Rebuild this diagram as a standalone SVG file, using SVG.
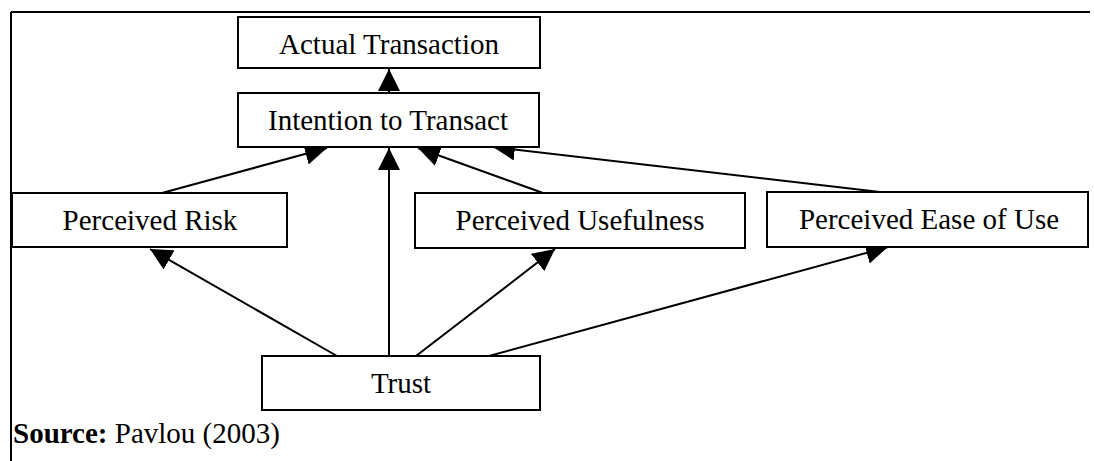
<svg xmlns="http://www.w3.org/2000/svg" width="1094" height="461" viewBox="0 0 1094 461">
  <style>
    .box { fill: #fff; stroke: #000; stroke-width: 2; }
    .lbl { font-family: "Liberation Serif", "Times New Roman", serif; font-size: 29px; fill: #000; text-anchor: middle; }
    .src { font-family: "Liberation Serif", "Times New Roman", serif; font-size: 29px; fill: #000; }
    .edge { stroke: #000; stroke-width: 2; fill: none; marker-end: url(#head); }
  </style>
  <defs>
    <marker id="head" markerUnits="userSpaceOnUse" markerWidth="22" markerHeight="22" viewBox="0 0 20 20" refX="20" refY="10" orient="auto">
      <path d="M0,0 L20,10 L0,20 Z" fill="#000"/>
    </marker>
  </defs>
  <rect width="1094" height="461" fill="#fff"/>

  <!-- outer frame: top rule and left rule only -->
  <path d="M11,12 H1090 M11,12 V461" stroke="#000" stroke-width="2" fill="none"/>

  <g id="connectors">
    <line class="edge" x1="389" y1="93" x2="389" y2="69"/>
    <line class="edge" x1="162" y1="193" x2="327" y2="148"/>
    <line class="edge" x1="543" y1="193" x2="418" y2="148"/>
    <line class="edge" x1="880" y1="192" x2="493" y2="147"/>
    <line class="edge" x1="389" y1="356" x2="389" y2="148"/>
    <line class="edge" x1="337" y1="356" x2="150" y2="249"/>
    <line class="edge" x1="416" y1="356" x2="555" y2="249"/>
    <line class="edge" x1="489" y1="356" x2="888" y2="247"/>
  </g>

  <g id="actual-transaction">
    <rect class="box" x="238" y="17" width="302" height="51"/>
    <text class="lbl" x="389" y="54">Actual Transaction</text>
  </g>
  <g id="intention-to-transact">
    <rect class="box" x="238" y="93" width="301" height="54"/>
    <text class="lbl" x="388" y="130">Intention to Transact</text>
  </g>
  <g id="perceived-risk">
    <rect class="box" x="12" y="193" width="275" height="54"/>
    <text class="lbl" x="150" y="230">Perceived Risk</text>
  </g>
  <g id="perceived-usefulness">
    <rect class="box" x="415" y="193" width="330" height="55"/>
    <text class="lbl" x="580" y="230">Perceived Usefulness</text>
  </g>
  <g id="perceived-ease-of-use">
    <rect class="box" x="767" y="192" width="321" height="55"/>
    <text class="lbl" x="929" y="229">Perceived Ease of Use</text>
  </g>
  <g id="trust">
    <rect class="box" x="262" y="356" width="278" height="54"/>
    <text class="lbl" x="401" y="393">Trust</text>
  </g>

  <text class="src" x="13" y="443"><tspan font-weight="bold">Source:</tspan> Pavlou (2003)</text>
</svg>
